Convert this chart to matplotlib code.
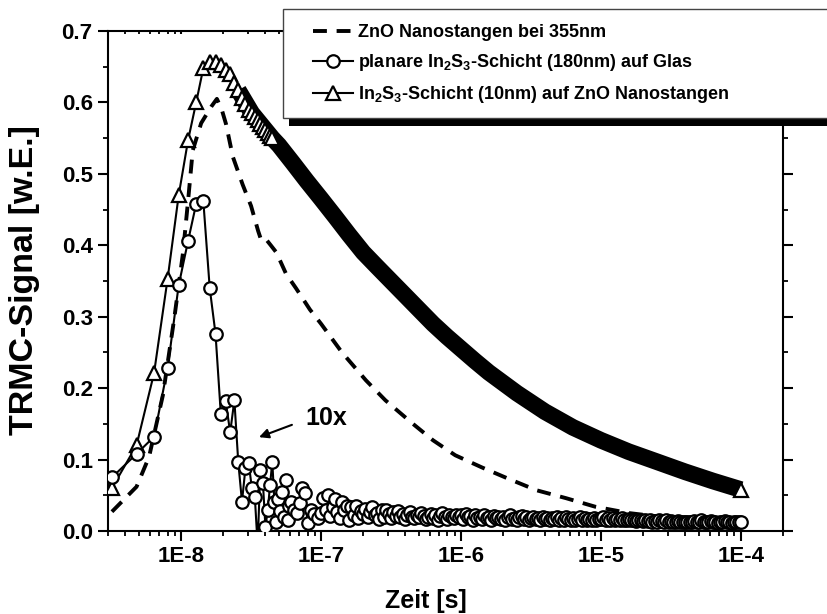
import matplotlib
matplotlib.use("Agg")
import matplotlib.pyplot as plt
from matplotlib.lines import Line2D
from matplotlib.patches import Rectangle
from matplotlib.ticker import FixedLocator, LogLocator, MultipleLocator, NullFormatter

plt.rcParams['font.family'] = ['Liberation Sans', 'DejaVu Sans']
plt.rcParams['font.weight'] = 'bold'
plt.rcParams['mathtext.fontset'] = 'custom'
plt.rcParams['mathtext.rm'] = 'Liberation Sans:bold'
plt.rcParams['mathtext.it'] = 'Liberation Sans:bold'
plt.rcParams['mathtext.bf'] = 'Liberation Sans:bold'
plt.rcParams['lines.scale_dashes'] = False

# ---------------- data ----------------
# ZnO nanorods at 355 nm (dashed)
zno_t = [3.2e-9, 4.8e-9, 5.9e-9, 7.4e-9, 8.96e-9, 1.03e-8, 1.13e-8, 1.21e-8, 1.39e-8,
         1.64e-8, 1.80e-8, 1.95e-8, 2.09e-8, 2.34e-8, 2.75e-8, 3.16e-8, 3.55e-8, 3.72e-8,
         3.98e-8, 4.37e-8, 4.79e-8, 5.62e-8, 6.61e-8, 8.32e-8, 1.0e-7, 1.41e-7, 2.09e-7,
         2.88e-7, 4.47e-7, 6.31e-7, 9.1e-7, 1.41e-6, 2.19e-6, 3.47e-6, 5.62e-6, 9.1e-6,
         1.6e-5, 3.2e-5, 1.0e-4]
zno_v = [0.027, 0.062, 0.104, 0.19, 0.30, 0.389, 0.47, 0.533, 0.571,
         0.594, 0.605, 0.59, 0.57, 0.524, 0.485, 0.455, 0.42, 0.408,
         0.410, 0.40, 0.39, 0.36, 0.34, 0.31, 0.29, 0.25, 0.211,
         0.183, 0.151, 0.127, 0.106, 0.089, 0.073, 0.057, 0.046, 0.034,
         0.025, 0.018, 0.012]

# planar In2S3 layer (180 nm) on glass (circles), sparse early part
pl_t = [3.2e-9, 4.8e-9, 6.4e-9, 8.0e-9, 9.6e-9, 1.12e-8, 1.28e-8, 1.44e-8, 1.60e-8,
        1.76e-8, 1.92e-8, 2.08e-8, 2.24e-8, 2.40e-8, 2.56e-8, 2.72e-8, 2.88e-8, 3.04e-8,
        3.20e-8, 3.36e-8, 3.52e-8, 3.68e-8, 3.84e-8, 4.00e-8, 4.16e-8, 4.32e-8, 4.48e-8,
        4.64e-8, 4.80e-8, 4.96e-8, 5.12e-8, 5.28e-8, 5.44e-8, 5.60e-8, 5.76e-8, 5.92e-8,
        6.08e-8, 6.40e-8, 6.72e-8, 7.04e-8, 7.36e-8, 7.68e-8, 8.00e-8, 8.48e-8, 8.96e-8,
        9.44e-8]
pl_v = [0.075, 0.108, 0.132, 0.228, 0.344, 0.406, 0.458, 0.462, 0.340,
        0.276, 0.164, 0.182, 0.138, 0.183, 0.096, 0.041, 0.088, 0.095,
        0.060, 0.048, -0.02, 0.086, 0.067, 0.006, 0.029, 0.065, 0.097,
        0.040, 0.013, 0.045, 0.028, 0.055, 0.020, 0.071, 0.015, 0.035,
        0.041, 0.030, 0.025, 0.039, 0.060, 0.053, 0.011, 0.030, 0.024,
        0.018]
# dense tail of the circles
pl_tail_t = [
    1.000e-7, 1.039e-7, 1.080e-7, 1.122e-7, 1.166e-7, 1.212e-7, 1.259e-7, 1.308e-7, 1.359e-7, 1.413e-7,
    1.468e-7, 1.525e-7, 1.585e-7, 1.647e-7, 1.711e-7, 1.778e-7, 1.848e-7, 1.920e-7, 1.995e-7, 2.073e-7,
    2.154e-7, 2.239e-7, 2.326e-7, 2.417e-7, 2.512e-7, 2.610e-7, 2.712e-7, 2.818e-7, 2.929e-7, 3.043e-7,
    3.162e-7, 3.286e-7, 3.415e-7, 3.548e-7, 3.687e-7, 3.831e-7, 3.981e-7, 4.137e-7, 4.299e-7, 4.467e-7,
    4.642e-7, 4.823e-7, 5.012e-7, 5.208e-7, 5.412e-7, 5.623e-7, 5.843e-7, 6.072e-7, 6.310e-7, 6.556e-7,
    6.813e-7, 7.080e-7, 7.356e-7, 7.644e-7, 7.943e-7, 8.254e-7, 8.577e-7, 8.913e-7, 9.261e-7, 9.624e-7,
    1.000e-6, 1.039e-6, 1.080e-6, 1.122e-6, 1.166e-6, 1.212e-6, 1.259e-6, 1.308e-6, 1.359e-6, 1.413e-6,
    1.468e-6, 1.525e-6, 1.585e-6, 1.647e-6, 1.711e-6, 1.778e-6, 1.848e-6, 1.920e-6, 1.995e-6, 2.073e-6,
    2.154e-6, 2.239e-6, 2.326e-6, 2.417e-6, 2.512e-6, 2.610e-6, 2.712e-6, 2.818e-6, 2.929e-6, 3.043e-6,
    3.162e-6, 3.286e-6, 3.415e-6, 3.548e-6, 3.687e-6, 3.831e-6, 3.981e-6, 4.137e-6, 4.299e-6, 4.467e-6,
    4.642e-6, 4.823e-6, 5.012e-6, 5.208e-6, 5.412e-6, 5.623e-6, 5.843e-6, 6.072e-6, 6.310e-6, 6.556e-6,
    6.813e-6, 7.080e-6, 7.356e-6, 7.644e-6, 7.943e-6, 8.254e-6, 8.577e-6, 8.913e-6, 9.261e-6, 9.624e-6,
    1.000e-5, 1.039e-5, 1.080e-5, 1.122e-5, 1.166e-5, 1.212e-5, 1.259e-5, 1.308e-5, 1.359e-5, 1.413e-5,
    1.468e-5, 1.525e-5, 1.585e-5, 1.647e-5, 1.711e-5, 1.778e-5, 1.848e-5, 1.920e-5, 1.995e-5, 2.073e-5,
    2.154e-5, 2.239e-5, 2.326e-5, 2.417e-5, 2.512e-5, 2.610e-5, 2.712e-5, 2.818e-5, 2.929e-5, 3.043e-5,
    3.162e-5, 3.286e-5, 3.415e-5, 3.548e-5, 3.687e-5, 3.831e-5, 3.981e-5, 4.137e-5, 4.299e-5, 4.467e-5,
    4.642e-5, 4.823e-5, 5.012e-5, 5.208e-5, 5.412e-5, 5.623e-5, 5.843e-5, 6.072e-5, 6.310e-5, 6.556e-5,
    6.813e-5, 7.080e-5, 7.356e-5, 7.644e-5, 7.943e-5, 8.254e-5, 8.577e-5, 8.913e-5, 9.261e-5, 9.624e-5,
    1.000e-4]
pl_tail_v = [
    0.025, 0.046, 0.030, 0.050, 0.021, 0.034, 0.045, 0.027, 0.018, 0.040,
    0.029, 0.035, 0.016, 0.033, 0.022, 0.035, 0.018, 0.028, 0.024, 0.031,
    0.019, 0.027, 0.033, 0.022, 0.025, 0.017, 0.029, 0.020, 0.030, 0.024,
    0.018, 0.026, 0.021, 0.028, 0.019, 0.024, 0.017, 0.022, 0.027, 0.020,
    0.018, 0.023, 0.019, 0.025, 0.021, 0.017, 0.020, 0.024, 0.018, 0.022,
    0.016, 0.021, 0.025, 0.019, 0.017, 0.022, 0.020, 0.018, 0.023, 0.019,
    0.022, 0.017, 0.024, 0.019, 0.021, 0.016, 0.023, 0.018, 0.020, 0.017,
    0.022, 0.018, 0.020, 0.016, 0.021, 0.018, 0.019, 0.017, 0.020, 0.016,
    0.019, 0.023, 0.017, 0.018, 0.016, 0.019, 0.021, 0.017, 0.019, 0.016,
    0.018, 0.020, 0.017, 0.018, 0.016, 0.019, 0.017, 0.018, 0.016, 0.018,
    0.017, 0.020, 0.016, 0.018, 0.015, 0.019, 0.017, 0.016, 0.018, 0.015,
    0.017, 0.019, 0.016, 0.018, 0.015, 0.017, 0.016, 0.018, 0.015, 0.017,
    0.017, 0.019, 0.015, 0.018, 0.016, 0.018, 0.015, 0.017, 0.016, 0.018,
    0.015, 0.016, 0.017, 0.015, 0.016, 0.014, 0.016, 0.015, 0.014, 0.016,
    0.014, 0.015, 0.013, 0.014, 0.013, 0.015, 0.014, 0.013, 0.015, 0.013,
    0.014, 0.013, 0.012, 0.014, 0.013, 0.012, 0.013, 0.012, 0.013, 0.012,
    0.014, 0.012, 0.013, 0.015, 0.012, 0.013, 0.012, 0.014, 0.012, 0.013,
    0.011, 0.013, 0.012, 0.014, 0.012, 0.013, 0.011, 0.012, 0.013, 0.012,
    0.012]

# In2S3 layer (10 nm) on ZnO nanorods (triangles), sparse early part
nr_t = [3.2e-9, 4.8e-9, 6.4e-9, 8.0e-9, 9.6e-9, 1.12e-8, 1.28e-8, 1.44e-8, 1.60e-8,
        1.76e-8, 1.92e-8, 2.08e-8, 2.24e-8, 2.40e-8, 2.56e-8, 2.72e-8, 2.88e-8, 3.04e-8,
        3.20e-8, 3.36e-8, 3.52e-8, 3.68e-8, 3.84e-8, 4.00e-8, 4.16e-8, 4.32e-8, 4.48e-8]
nr_v = [0.060, 0.120, 0.221, 0.353, 0.470, 0.547, 0.600, 0.648, 0.657,
        0.657, 0.652, 0.645, 0.640, 0.627, 0.617, 0.606, 0.598, 0.590,
        0.585, 0.580, 0.576, 0.570, 0.565, 0.561, 0.557, 0.553, 0.550]
# dense tail of the triangles
nr_tail_t = [2.56e-8, 3.2e-8, 4.48e-8, 5.0e-8, 6.3e-8, 7.9e-8, 1.0e-7, 1.26e-7, 1.58e-7, 2.0e-7,
             2.51e-7, 3.16e-7, 3.98e-7, 5.01e-7, 6.31e-7, 7.94e-7, 1.0e-6, 1.26e-6, 1.58e-6,
             2.51e-6, 3.98e-6, 6.31e-6, 1.0e-5, 1.58e-5, 2.51e-5, 3.98e-5, 6.31e-5, 1.0e-4]
nr_tail_v = [0.617, 0.585, 0.550, 0.540, 0.515, 0.490, 0.465, 0.440, 0.415, 0.390,
             0.370, 0.350, 0.330, 0.310, 0.290, 0.272, 0.255, 0.238, 0.222,
             0.193, 0.167, 0.145, 0.127, 0.111, 0.097, 0.083, 0.070, 0.058]

labels = ["ZnO Nanostangen bei 355nm",
          "planare In$_2$S$_3$-Schicht (180nm) auf Glas",
          "In$_2$S$_3$-Schicht (10nm) auf ZnO Nanostangen"]
xticks = [1e-8, 1e-7, 1e-6, 1e-5, 1e-4]
xticklabels = ["1E-8", "1E-7", "1E-6", "1E-5", "1E-4"]
yticks = [0.0, 0.1, 0.2, 0.3, 0.4, 0.5, 0.6, 0.7]

# ---------------- figure ----------------
W, H = 827, 614
fig = plt.figure(figsize=(W / 100, H / 100), dpi=100)
ax = fig.add_axes([108 / W, 1 - 531 / H, 675 / W, 500 / H])

dash = (10, 7)
ax.plot(zno_t, zno_v, color='black', lw=2.8, dashes=dash, zorder=2)

# triangles
ax.plot(nr_tail_t, nr_tail_v, color='black', lw=12, solid_capstyle='butt',
        solid_joinstyle='round', zorder=3)
ax.plot(nr_t, nr_v, color='black', lw=1.5, marker='^', ms=10.5, mfc='white', mec='black',
        mew=1.6, zorder=4)
ax.plot(nr_tail_t[-1:], nr_tail_v[-1:], ls='none', marker='^', ms=10.5, mfc='white',
        mec='black', mew=1.6, zorder=5)

# circles
ax.plot(pl_t + pl_tail_t, pl_v + pl_tail_v, color='black', lw=1.5, marker='o', ms=9,
        mfc='white', mec='black', mew=1.6, zorder=4)

ax.set_xscale('log')
ax.set_xlim(3e-9, 2e-4)
ax.set_ylim(0, 0.7)
ax.xaxis.set_major_locator(FixedLocator(xticks))
ax.set_xticklabels(xticklabels)
ax.xaxis.set_minor_locator(LogLocator(base=10, subs=range(2, 10), numticks=20))
ax.xaxis.set_minor_formatter(NullFormatter())
ax.yaxis.set_major_locator(FixedLocator(yticks))
ax.set_yticklabels([f"{v:.1f}" for v in yticks])
ax.yaxis.set_minor_locator(MultipleLocator(0.05))

for s in ax.spines.values():
    s.set_linewidth(1.5)
ax.tick_params(which='major', direction='out', length=7, width=1.5, labelsize=16, pad=4)
ax.tick_params(which='minor', direction='out', length=3.5, width=1.3)
ax.tick_params(which='major', top=True, right=True, length=7)
ax.tick_params(which='minor', top=True, right=True)
ax.xaxis.set_tick_params(which='both', top=True)
for t in ax.xaxis.get_major_ticks() + ax.xaxis.get_minor_ticks():
    t.tick2line.set_marker(3)  # top ticks pointing into the axes
    t.tick2line.set_markersize(2.5)
for lab in ax.get_xticklabels() + ax.get_yticklabels():
    lab.set_fontweight('bold')

ax.set_xlabel("Zeit [s]", fontsize=18, fontweight='bold')
ax.xaxis.set_label_coords((426 - 108) / 675, (531 - 589) / 500)
fig.text(25 / W, 1 - 280 / H, "TRMC-Signal [w.E.]", rotation=90, ha='center', va='center',
         fontsize=24.5, fontweight='bold')

# 10x annotation
ax.annotate("", xy=(3.45e-8, 0.130), xytext=(6.46e-8, 0.150),
            arrowprops=dict(arrowstyle='-|>', color='black', lw=1.5, mutation_scale=14))
ax.text(7.7e-8, 0.158, "10x", fontsize=18, fontweight='bold', ha='left', va='center')

# legend box with shadow (figure coords)
fig.patches.append(Rectangle((289 / W, 1 - 126 / H), 600 / W, (126 - 17) / H,
                             transform=fig.transFigure, facecolor='black', edgecolor='none',
                             zorder=10))
fig.patches.append(Rectangle((283 / W, 1 - 118 / H), 600 / W, (118 - 9) / H,
                             transform=fig.transFigure, facecolor='white', edgecolor='#444444',
                             lw=1.0, zorder=11))
handles = [Line2D([], [], color='black', lw=2.8, dashes=dash),
           Line2D([], [], color='black', lw=1.5, marker='o', ms=9, mfc='white', mew=1.6),
           Line2D([], [], color='black', lw=1.5, marker='^', ms=10.5, mfc='white', mew=1.6)]
leg = fig.legend(handles, labels, loc='upper left', bbox_to_anchor=(306 / W, 1 - 17 / H),
                 frameon=False, fontsize=13, handlelength=2.2, handletextpad=0.28,
                 labelspacing=0.6, borderaxespad=0)
leg.set_zorder(12)
for t in leg.get_texts():
    t.set_fontweight('bold')

fig.savefig("out.png", dpi=100)
